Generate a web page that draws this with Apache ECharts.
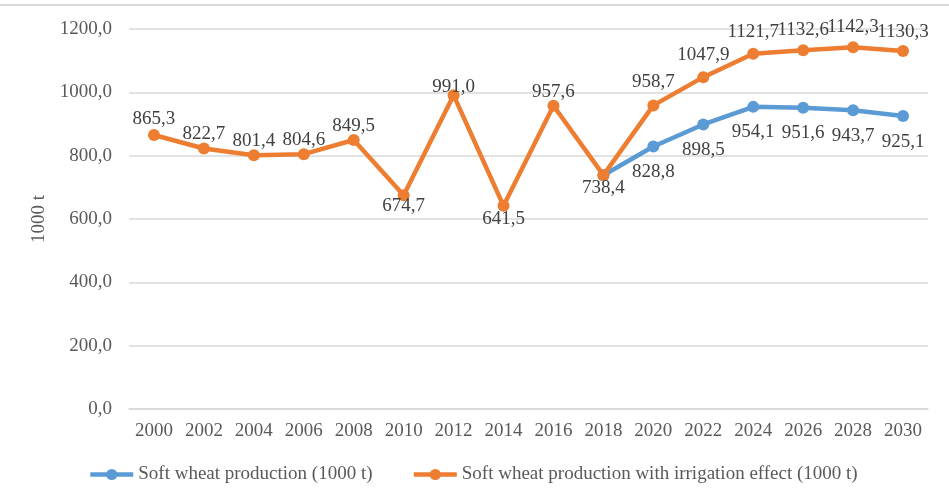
<!DOCTYPE html>
<html>
<head>
<meta charset="utf-8">
<script src="https://cdn.jsdelivr.net/npm/echarts@6/dist/echarts.min.js"></script>
<style>
  html, body { margin: 0; padding: 0; background: #fff; }
  #chart { width: 949px; height: 497px; }
</style>
</head>
<body>
<div id="chart"></div>
<script>
// Years on the category axis
const years = ['2000','2002','2004','2006','2008','2010','2012','2014','2016','2018',
               '2020','2022','2024','2026','2028','2030'];

// Soft wheat production (1000 t), projection from 2018 onward
const baseProduction = [null, null, null, null, null, null, null, null, null, 738.4,
                        828.8, 898.5, 954.1, 951.6, 943.7, 925.1];

// Soft wheat production with irrigation effect (1000 t)
const irrigatedProduction = [865.3, 822.7, 801.4, 804.6, 849.5, 674.7, 991.0, 641.5, 957.6, 738.4,
                             958.7, 1047.9, 1121.7, 1132.6, 1142.3, 1130.3];

const seriesNames = ['Soft wheat production (1000 t)',
                     'Soft wheat production with irrigation effect (1000 t)'];

const fmt = v => v.toFixed(1).replace('.', ',');
const FONT = '"Liberation Serif", "Times New Roman", serif';
const FS = 19;

// Label placement for the irrigated series: [position, distance] per year
const irrigatedLabelLayout = [
  ['top', 0], ['top', -1], ['top', -1], ['top', -1], ['top', -2],
  ['bottom', -5], ['top', -7], ['bottom', -2], ['top', -2], ['bottom', -3],
  ['top', 8], ['top', 7], ['top', 6], ['top', 5], ['top', 5], ['top', 4]
];

const chart = echarts.init(document.getElementById('chart'), null, { renderer: 'canvas' });

const labelStyle = {
  show: true,
  fontFamily: FONT,
  fontSize: FS,
  color: '#404040',
  formatter: p => fmt(p.value)
};

chart.setOption({
  animation: false,
  backgroundColor: '#ffffff',
  textStyle: { fontFamily: FONT },
  graphic: [{
    type: 'line',
    shape: { x1: 0, y1: 5, x2: 949, y2: 5 },
    style: { stroke: '#d9d9d9', lineWidth: 2 },
    silent: true
  }],
  grid: { left: 129, right: 21, top: 29, bottom: 88, containLabel: false },
  legend: {
    left: 83,
    top: 460,
    itemWidth: 43,
    itemHeight: 14,
    itemGap: 39,
    lineStyle: { width: 4.5 },
    textStyle: { fontFamily: FONT, fontSize: FS, color: '#595959' },
    data: seriesNames
  },
  xAxis: {
    type: 'category',
    data: years,
    boundaryGap: true,
    axisLine: { show: true, lineStyle: { color: '#d9d9d9', width: 1.5 } },
    axisTick: { show: false },
    axisLabel: { fontFamily: FONT, fontSize: FS, color: '#595959', margin: 13 }
  },
  yAxis: {
    type: 'value',
    min: 0,
    max: 1200,
    interval: 200,
    name: '1000 t',
    nameLocation: 'middle',
    nameGap: 80,
    nameRotate: 90,
    nameTextStyle: { fontFamily: FONT, fontSize: FS, color: '#595959' },
    axisLine: { show: false },
    axisTick: { show: false },
    splitLine: { lineStyle: { color: '#d9d9d9', width: 1.5 } },
    axisLabel: { fontFamily: FONT, fontSize: FS, color: '#595959', margin: 17,
                 formatter: v => fmt(v) }
  },
  series: [
    {
      name: seriesNames[0],
      type: 'line',
      data: baseProduction.map((v, i) => ({
        value: v,
        label: { show: v !== null && irrigatedProduction[i] !== v }
      })),
      symbol: 'circle',
      symbolSize: 12,
      connectNulls: false,
      z: 2,
      itemStyle: { color: '#5B9BD5' },
      lineStyle: { color: '#5B9BD5', width: 4.5 },
      label: Object.assign({}, labelStyle, { position: 'bottom', distance: 10 })
    },
    {
      name: seriesNames[1],
      type: 'line',
      z: 3,
      data: irrigatedProduction.map((v, i) => ({
        value: v,
        label: { position: irrigatedLabelLayout[i][0], distance: irrigatedLabelLayout[i][1] }
      })),
      symbol: 'circle',
      symbolSize: 12,
      itemStyle: { color: '#ED7D31' },
      lineStyle: { color: '#ED7D31', width: 4.5 },
      label: Object.assign({}, labelStyle, { position: 'top' })
    }
  ]
});
</script>
</body>
</html>
